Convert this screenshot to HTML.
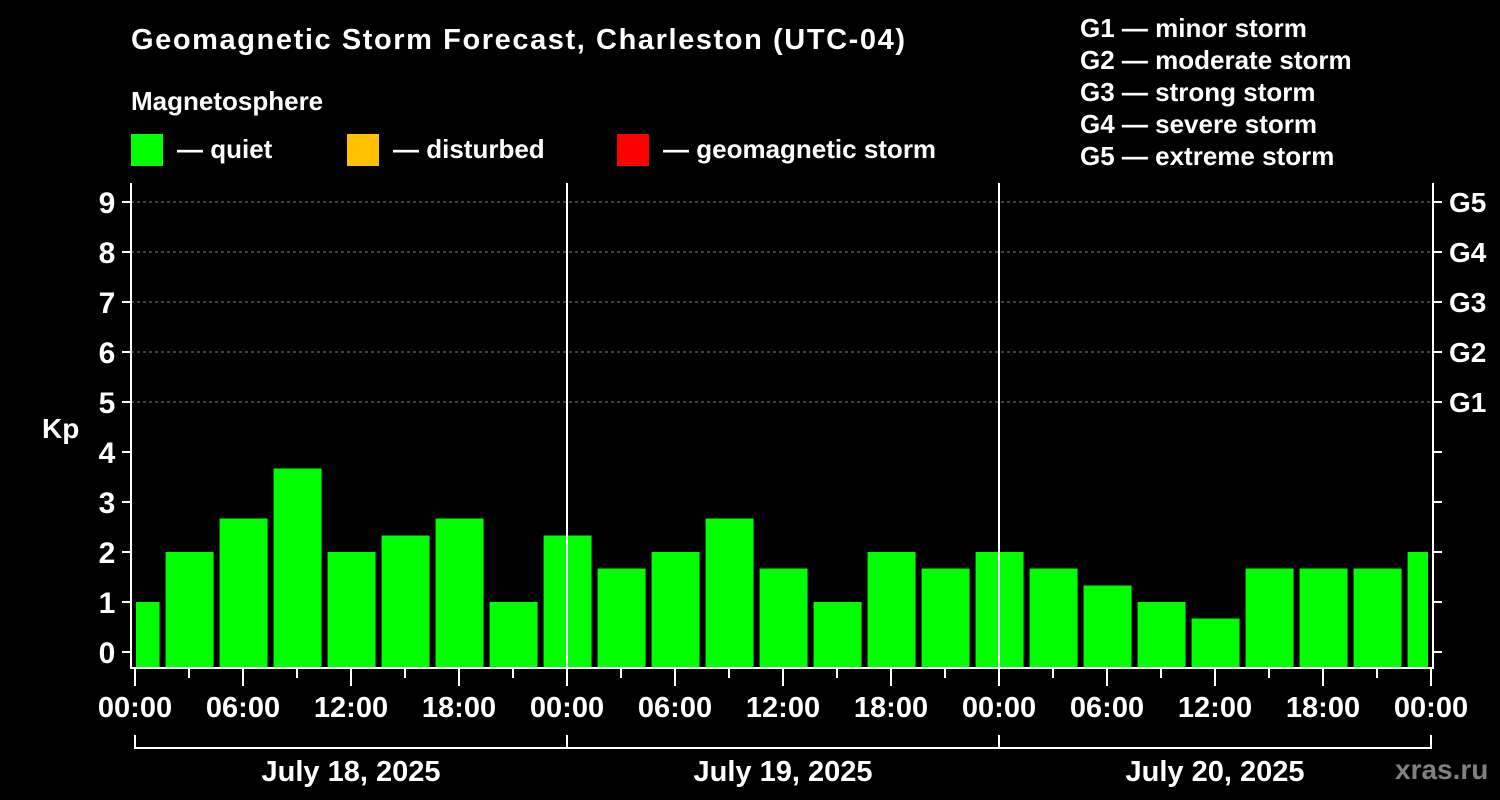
<!DOCTYPE html>
<html><head><meta charset="utf-8"><style>
body{margin:0;background:#000;width:1500px;height:800px;overflow:hidden}
svg{display:block}
text{font-family:"Liberation Sans",Arial,sans-serif;font-weight:bold;fill:#fff}
</style></head><body>
<svg id="chart" width="1500" height="800" xmlns="http://www.w3.org/2000/svg">
<text x="131" y="49" font-size="29" textLength="774">Geomagnetic Storm Forecast, Charleston (UTC-04)</text>
<text x="131" y="110" font-size="26">Magnetosphere</text>
<g><rect x="131" y="134" width="32" height="32" fill="#00ff00"/><text x="177" y="158" font-size="26">— quiet</text></g>
<g><rect x="347" y="134" width="32" height="32" fill="#ffc000"/><text x="393" y="158" font-size="26">— disturbed</text></g>
<g><rect x="617" y="134" width="32" height="32" fill="#ff0000"/><text x="663" y="158" font-size="26">— geomagnetic storm</text></g>
<g font-size="26">
<text x="1080" y="37">G1 — minor storm</text>
<text x="1080" y="69">G2 — moderate storm</text>
<text x="1080" y="101">G3 — strong storm</text>
<text x="1080" y="133">G4 — severe storm</text>
<text x="1080" y="165">G5 — extreme storm</text>
</g>
<text x="42" y="438" font-size="28">Kp</text>
<g id="grid"></g><g id="bars"></g><g id="axes"></g>
<text x="1395" y="779" font-size="28" style="fill:#808080">xras.ru</text>
</svg>
<script>
const kpValues=[1,2,2.67,3.67,2,2.33,2.67,1,2.33,1.67,2,2.67,1.67,1,2,1.67,2,1.67,1.33,1,0.67,1.67,1.67,1.67,2];
const yTicks=[0,1,2,3,4,5,6,7,8,9];
const gLabels=["G1","G2","G3","G4","G5"];
const gLevels=[5,6,7,8,9];
const timeLabels=["00:00","06:00","12:00","18:00"];
const dayLabels=["July 18, 2025","July 19, 2025","July 20, 2025"];
const NS="http://www.w3.org/2000/svg";
const X0=135,DAYW=432,L=131,R=1433,T=183,B=668,clipL=136,clipR=1428;
const xH=h=>X0+h*DAYW/24;
const yK=k=>652-k*50;
function mk(tag,attrs,parent,txt){const e=document.createElementNS(NS,tag);for(const k in attrs)e.setAttribute(k,attrs[k]);if(txt!==undefined)e.textContent=txt;document.getElementById(parent).appendChild(e);return e;}
gLevels.forEach((k,i)=>{
 const l=mk('line',{x1:L,x2:R,y1:yK(k),y2:yK(k),stroke:'#808080','stroke-dasharray':'3,3','stroke-width':1},'grid');
 
 
 const t=mk('text',{x:1449,y:yK(k)+10,'font-size':28},'axes',gLabels[i]);
 
 
});
kpValues.forEach((v,i)=>{
 let a=xH(3*i-1.33)+0.5,b=a+48;
 a=Math.max(a,clipL);b=Math.min(b,clipR);
 const r=mk('rect',{x:a,y:yK(v),width:b-a,height:B-yK(v),fill:v>=5?'#ff0000':(v>=4?'#ffc000':'#00ff00')},'bars');
 
 
});
const ax=mk('path',{d:`M${L},${T}V${B}H${R}V${T}`,fill:'none',stroke:'#fff','stroke-width':2},'axes');


yTicks.forEach(k=>{
 mk('line',{x1:122,x2:L,y1:yK(k),y2:yK(k),stroke:'#fff','stroke-width':2},'axes');
 mk('line',{x1:R,x2:R+9,y1:yK(k),y2:yK(k),stroke:'#fff','stroke-width':2},'axes');
 const t=mk('text',{x:107,y:yK(k)+11,'font-size':30,'text-anchor':'middle'},'axes',String(k));
 
 
});
for(let d=1;d<3;d++){const l=mk('line',{x1:xH(24*d),x2:xH(24*d),y1:T,y2:B,stroke:'#fff','stroke-width':2},'axes');
 
 }
for(let h=0;h<=72;h+=3){const major=h%6===0;
 mk('line',{x1:xH(h),x2:xH(h),y1:B,y2:major?686:678,stroke:'#fff','stroke-width':2},'axes');
 if(major){const lbl=timeLabels[(h%24)/6];
  const t=mk('text',{x:xH(h),y:717,'font-size':29,'text-anchor':'middle'},'axes',lbl);
  
  }}
const br=mk('path',{d:`M${xH(0)},735V748H${xH(72)}V735M${xH(24)},735V748M${xH(48)},735V748`,fill:'none',stroke:'#fff','stroke-width':2},'axes');


dayLabels.forEach((s,i)=>{const t=mk('text',{x:xH(24*i+12),y:781,'font-size':29,'text-anchor':'middle'},'axes',s);
 
 });
</script>
</body></html>
